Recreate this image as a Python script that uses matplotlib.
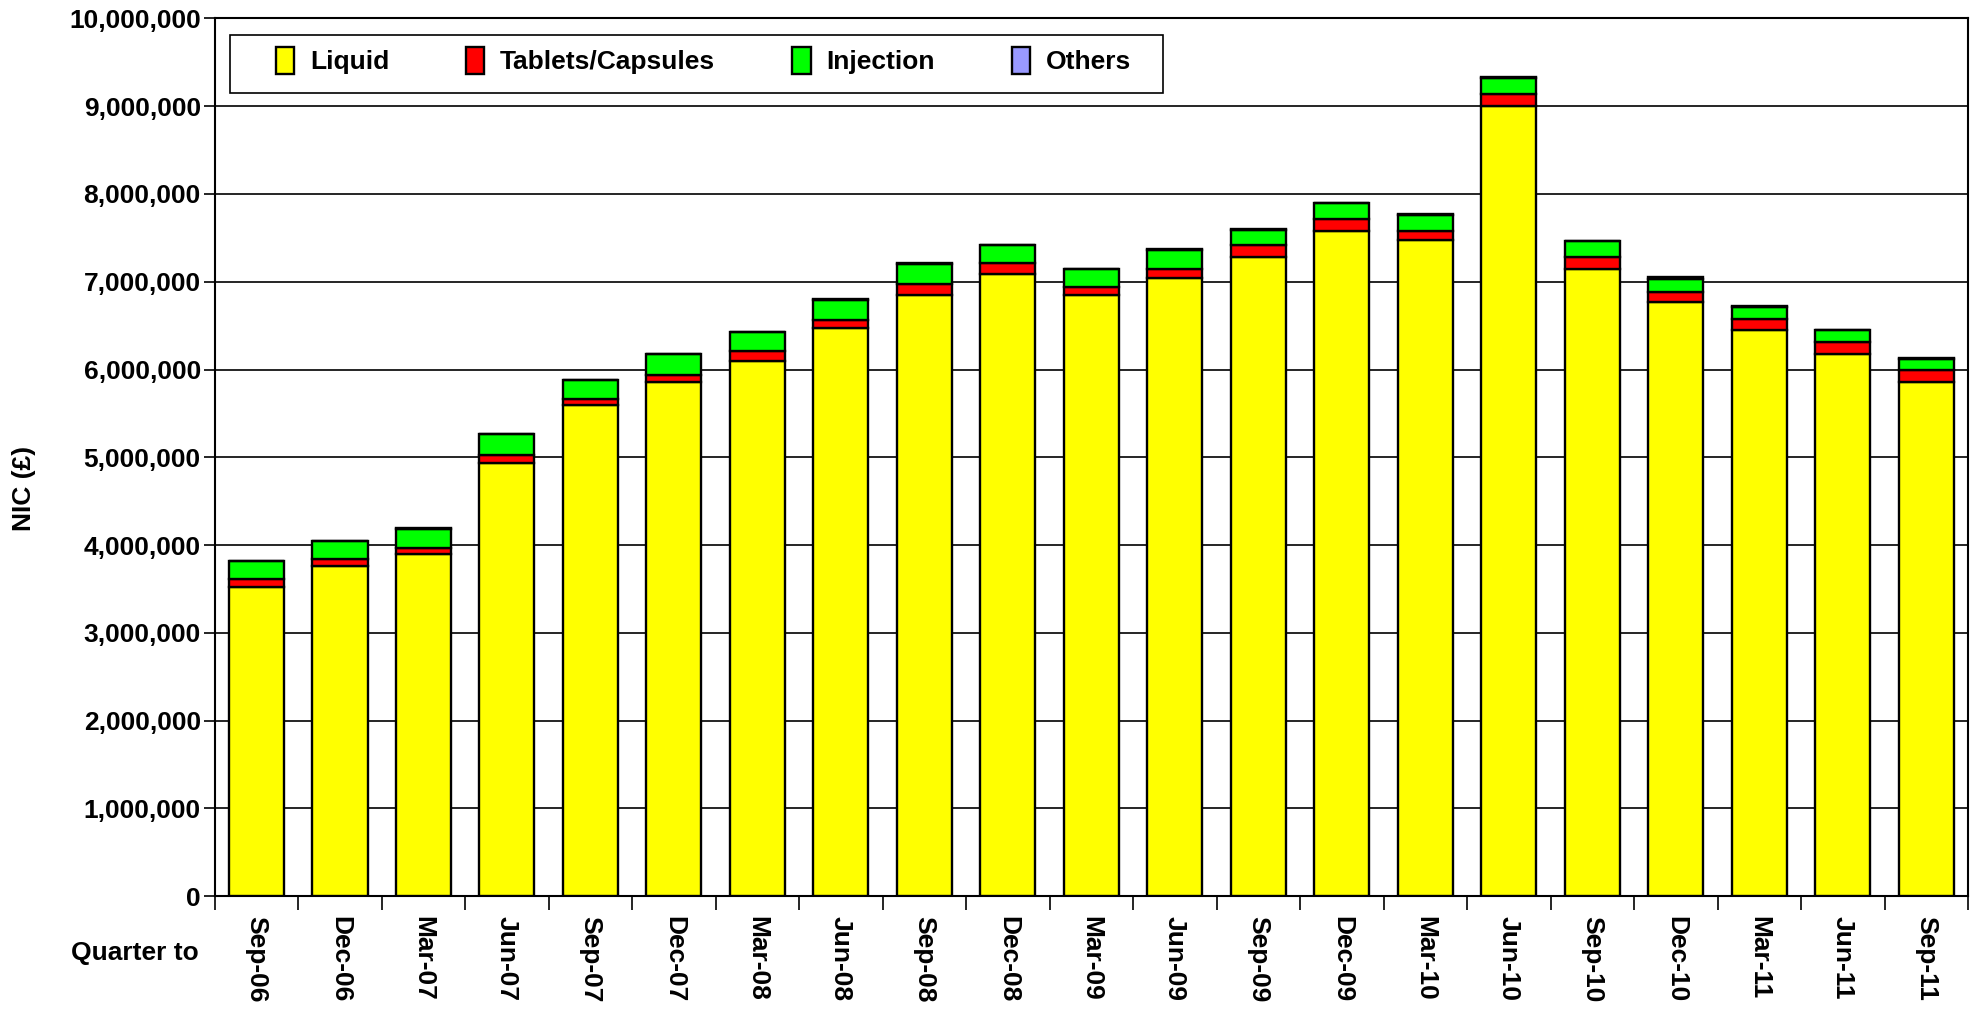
import numpy as np
import matplotlib.pyplot as plt
from matplotlib.patches import Rectangle
from matplotlib.ticker import FuncFormatter, MultipleLocator

plt.rcParams['font.family'] = ['Liberation Sans', 'DejaVu Sans']
plt.rcParams['font.weight'] = 'bold'

# Квартальные данные NIC (£) по формам выпуска
quarters = ['Sep-06', 'Dec-06', 'Mar-07', 'Jun-07', 'Sep-07', 'Dec-07', 'Mar-08',
            'Jun-08', 'Sep-08', 'Dec-08', 'Mar-09', 'Jun-09', 'Sep-09', 'Dec-09',
            'Mar-10', 'Jun-10', 'Sep-10', 'Dec-10', 'Mar-11', 'Jun-11', 'Sep-11']

liquid = [3520000, 3760000, 3895000, 4940000, 5590000, 5855000, 6100000,
          6470000, 6850000, 7090000, 6850000, 7040000, 7280000, 7580000,
          7470000, 9000000, 7140000, 6770000, 6450000, 6180000, 5860000]
tablets = [90000, 80000, 75000, 85000, 75000, 85000, 110000,
           90000, 120000, 120000, 90000, 110000, 140000, 130000,
           110000, 140000, 140000, 110000, 130000, 130000, 130000]
injection = [205000, 205000, 215000, 240000, 215000, 235000, 215000,
             235000, 235000, 205000, 205000, 215000, 175000, 185000,
             185000, 185000, 185000, 150000, 135000, 135000, 135000]
others = [4000, 4000, 4000, 4000, 4000, 4000, 4000,
          4000, 4000, 4000, 4000, 4000, 4000, 4000,
          4000, 4000, 4000, 20000, 4000, 4000, 4000]

series = [('Liquid', liquid, '#FFFF00'),
          ('Tablets/Capsules', tablets, '#FF0000'),
          ('Injection', injection, '#00FF00'),
          ('Others', others, '#9999FF')]

fig = plt.figure(figsize=(19.88, 10.23), dpi=100)
ax = fig.add_axes([0.108, 0.124, 0.882, 0.858])

x = np.arange(len(quarters))
bottom = np.zeros(len(quarters))
for name, vals, color in series:
    vals = np.array(vals, dtype=float)
    ax.bar(x, vals, width=0.66, bottom=bottom, color=color, edgecolor='black',
           linewidth=1.7, label=name, zorder=3)
    bottom += vals

# Оси и сетка
ax.set_xlim(-0.5, len(quarters) - 0.5)
ax.set_ylim(0, 10000000)
ax.yaxis.set_major_locator(MultipleLocator(1000000))
ax.yaxis.set_major_formatter(FuncFormatter(lambda v, p: f'{int(v):,}'))
ax.grid(axis='y', color='black', linewidth=1.2, zorder=0)

ax.set_xticks(x)
ax.set_xticklabels(quarters, rotation=270, fontsize=19, fontweight='bold')
ax.set_xticks(np.arange(-0.5, len(quarters), 1), minor=True)
ax.tick_params(axis='x', which='major', length=0, pad=14)
ax.tick_params(axis='x', which='minor', length=10, width=1.2, direction='out')
ax.tick_params(axis='y', length=8, width=1.2, labelsize=19, pad=2)
for lbl in ax.get_yticklabels():
    lbl.set_fontweight('bold')

for s in ax.spines.values():
    s.set_linewidth(1.5)
    s.set_color('black')

ax.set_ylabel('NIC (£)', fontsize=19, fontweight='bold')
ax.yaxis.set_label_coords(-0.102, 0.465)
fig.text(0.1, 0.068, 'Quarter to', fontsize=19, fontweight='bold',
         ha='right', va='center')

# Рамка легенды отдельно, сама легенда без рамки
ax.add_patch(Rectangle((0.0087, 0.915), 0.532, 0.066, transform=ax.transAxes,
                       facecolor='white', edgecolor='black', linewidth=1.2,
                       zorder=4))
leg = ax.legend(loc='center left', ncol=4, mode='expand',
                bbox_to_anchor=(0.0347, 0.952, 0.488, 0.0),
                fontsize=19, frameon=False,
                handlelength=0.7, handleheight=1.2, handletextpad=0.6,
                borderpad=0, borderaxespad=0)
leg.set_zorder(5)
for t in leg.get_texts():
    t.set_fontweight('bold')

plt.savefig('out.png', dpi=100)
